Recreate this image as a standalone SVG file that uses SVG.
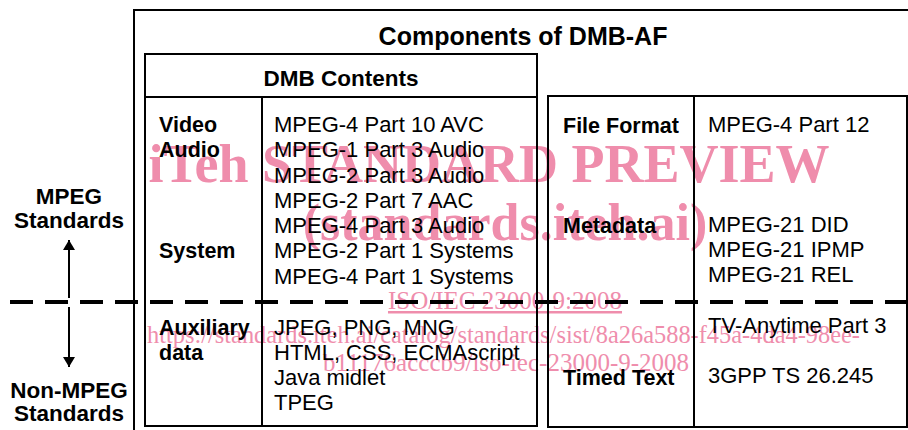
<svg xmlns="http://www.w3.org/2000/svg" width="908" height="430" viewBox="0 0 908 430">
<defs>
<style>
.box{fill:none;stroke:#000;stroke-width:2}
.t{font-family:"Liberation Sans",Arial,sans-serif;font-size:22px;fill:#000}
.b{font-family:"Liberation Sans",Arial,sans-serif;font-weight:bold;fill:#000}
.wm{font-family:"Liberation Serif","Times New Roman",serif;fill:#ef8dac}
</style>
<marker id="ah" viewBox="0 0 10 12" refX="10" refY="6" markerWidth="10" markerHeight="12" markerUnits="userSpaceOnUse" orient="auto"><path d="M0,0 L10,6 L0,12 z" fill="#000"/></marker>
</defs>
<rect width="908" height="430" fill="#fff"/>
<g id="watermark">
<text class="wm" x="489" y="182" font-size="54" font-weight="bold" text-anchor="middle">iTeh STANDARD PREVIEW</text>
<text class="wm" x="505" y="240" font-size="52" font-weight="bold" text-anchor="middle">(standards.iteh.ai)</text>
<text class="wm" x="505" y="309" font-size="25" text-anchor="middle" text-decoration="underline">ISO/IEC 23000-9:2008</text>
<text class="wm" x="147" y="343" font-size="25" textLength="713" lengthAdjust="spacingAndGlyphs">https://standards.iteh.ai/catalog/standards/sist/8a26a588-f45a-4da4-98ee-</text>
<text class="wm" x="506" y="371" font-size="25" text-anchor="middle">b11176acccb9/iso-iec-23000-9-2008</text>
</g>
<g id="outer">
<rect class="box" x="134" y="10" width="800" height="440" stroke="#222"/>
<text class="b" x="523" y="45" font-size="25" text-anchor="middle">Components of DMB-AF</text>
</g>
<g id="dmb-contents">
<rect class="box" x="145" y="54" width="392" height="372"/>
<line class="box" x1="145" y1="97" x2="537" y2="97"/>
<line class="box" x1="262" y1="97" x2="262" y2="426"/>
<text class="b" x="341" y="86" font-size="22.5" text-anchor="middle">DMB Contents</text>
<text class="b" font-size="21.5"><tspan x="159" y="132">Video</tspan><tspan x="159" y="157">Audio</tspan><tspan x="159" y="258">System</tspan><tspan x="159" y="335">Auxiliary</tspan><tspan x="159" y="360">data</tspan></text>
<text class="t"><tspan x="274" y="132">MPEG-4 Part 10 AVC</tspan><tspan x="274" y="157">MPEG-1 Part 3 Audio</tspan><tspan x="274" y="183">MPEG-2 Part 3 Audio</tspan><tspan x="274" y="208">MPEG-2 Part 7 AAC</tspan><tspan x="274" y="233">MPEG-4 Part 3 Audio</tspan><tspan x="274" y="258">MPEG-2 Part 1 Systems</tspan><tspan x="274" y="284">MPEG-4 Part 1 Systems</tspan><tspan x="274" y="335">JPEG, PNG, MNG</tspan><tspan x="274" y="360">HTML, CSS, ECMAscript</tspan><tspan x="274" y="385">Java midlet</tspan><tspan x="274" y="410">TPEG</tspan></text>
</g>
<g id="other-components">
<rect class="box" x="548" y="96" width="359" height="331"/>
<line class="box" x1="694" y1="96" x2="694" y2="427"/>
<text class="b" font-size="21.5"><tspan x="563" y="133">File Format</tspan><tspan x="563" y="233">Metadata</tspan><tspan x="563" y="385">Timed Text</tspan></text>
<text class="t"><tspan x="708" y="132">MPEG-4 Part 12</tspan><tspan x="708" y="232">MPEG-21 DID</tspan><tspan x="708" y="257">MPEG-21 IPMP</tspan><tspan x="708" y="282">MPEG-21 REL</tspan><tspan x="708" y="333">TV-Anytime Part 3</tspan><tspan x="708" y="383">3GPP TS 26.245</tspan></text>
</g>
<g id="legend">
<text class="b" font-size="22.5" text-anchor="middle"><tspan x="69" y="204">MPEG</tspan><tspan x="69" y="228">Standards</tspan><tspan x="69" y="398">Non-MPEG</tspan><tspan x="69" y="421">Standards</tspan></text>
</g>
<g id="connectors">
<line x1="10" y1="302" x2="908" y2="302" stroke="#000" stroke-width="4" stroke-dasharray="23 12"/>
<line x1="69" y1="298" x2="69" y2="240" stroke="#000" stroke-width="2" marker-end="url(#ah)"/>
<line x1="69" y1="307" x2="69" y2="367" stroke="#000" stroke-width="2" marker-end="url(#ah)"/>
</g>
</svg>
